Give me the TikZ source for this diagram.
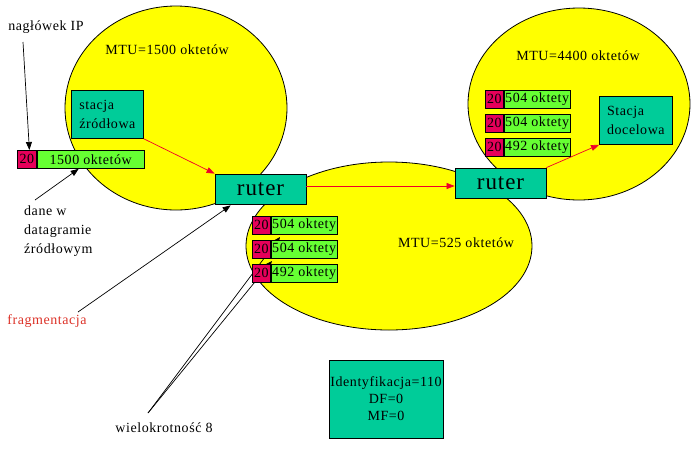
\documentclass[tikz,border=0pt]{standalone}
\usepackage{fontspec}
\setmainfont{Liberation Serif}[LetterSpace=4]
\usetikzlibrary{shapes.geometric,arrows.meta,calc}
\definecolor{netc}{RGB}{255,255,0}
\definecolor{tealc}{RGB}{0,204,153}
\definecolor{hdrc}{RGB}{230,0,90}
\definecolor{datc}{RGB}{102,255,51}
\definecolor{fragc}{RGB}{220,50,40}
\definecolor{arrc}{RGB}{240,0,40}
\begin{document}
\begin{tikzpicture}[x=1pt,y=-1pt,
  font=\fontsize{14}{16}\selectfont,
  net/.style={ellipse,draw=black,line width=0.8pt,fill=netc,inner sep=0pt},
  tbox/.style={draw=black,line width=0.8pt,fill=tealc,inner sep=0pt},
  hdr/.style={draw=black,line width=0.8pt,fill=hdrc,inner sep=0pt,minimum height=18pt,minimum width=18pt,anchor=north west},
  dat/.style={draw=black,line width=0.8pt,fill=datc,inner sep=0pt,minimum height=18pt,anchor=north west},
  blk/.style={draw=black,line width=0.7pt,-{Triangle[length=8pt,width=6pt]}},
  redarr/.style={draw=arrc,line width=0.7pt,-{Triangle[length=8pt,width=6pt]}},
  lbl/.style={inner sep=0pt}]
\useasboundingbox (0,0) rectangle (697,448);
% networks
\node[net,minimum width=222pt,minimum height=204pt] (net1) at (176,108) {};
\node[net,minimum width=222pt,minimum height=192pt] (net3) at (579,104) {};
\coordinate (w1) at (280,237);
\coordinate (w2) at (272,261);
\coordinate (wS) at (148,413);
\node[net,minimum width=286pt,minimum height=168pt] (net2) at (389,246) {};
% multiplicity lines (behind fragments)
\draw[draw=black,line width=0.7pt,-{Triangle[length=6pt,width=5pt]}] (wS) -- (w1);
\draw[draw=black,line width=0.7pt,-{Triangle[length=6pt,width=5pt]}] (wS) -- (w2);
% labels
\node[lbl] (mtu1) at (167,50) {MTU=1500 oktetów};
\node[lbl] (mtu3) at (578,56) {MTU=4400 oktetów};
\node[lbl] (mtu2) at (456,243) {MTU=525 oktetów};
\node[lbl] (nag) at (46,27) {nagłówek IP};
\node[lbl,align=left,anchor=west,font=\fontsize{14}{19}\selectfont] (dane) at (24,231) {dane w\\datagramie\\źródłowym};
\node[lbl,text=fragc] (frag) at (47,321) {fragmentacja};
\node[lbl] (wiel) at (164,428) {wielokrotność 8};
% stations and routers
\node[tbox,minimum width=72pt,minimum height=48pt,align=left,anchor=north west,font=\fontsize{14}{19}\selectfont] (src) at (71,90) {stacja\\źródłowa};
\node[tbox,minimum width=73pt,minimum height=48pt,align=left,anchor=north west,font=\fontsize{14}{19}\selectfont] (dst) at (599,96) {Stacja\\docelowa};
\node[tbox,minimum width=91pt,minimum height=30pt,font=\fontsize{23}{24}\selectfont] (r1) at (260.5,189) {ruter};
\node[tbox,minimum width=91pt,minimum height=30pt,font=\fontsize{23}{24}\selectfont] (r2) at (500.5,183) {ruter};
\node[tbox,minimum width=114pt,minimum height=78pt,align=center,font=\fontsize{14}{17}\selectfont] (ident) at (386,399) {Identyfikacja=110\\DF=0\\MF=0};
% source datagram
\node[hdr,minimum width=19pt] (h0) at (17,150) {20};
\node[dat,minimum width=107pt] (d0) at (h0.north east) {1500 oktetów};
% fragments in middle network
\node[hdr] (ha) at (252,216) {20};
\node[dat,minimum width=66pt] (da) at (ha.north east) {504 oktety};
\node[hdr] (hb) at (252,240) {20};
\node[dat,minimum width=66pt] (db) at (hb.north east) {504 oktety};
\node[hdr] (hc) at (252,264) {20};
\node[dat,minimum width=66pt] (dc) at (hc.north east) {492 oktety};
% fragments in destination network
\node[hdr] (hd) at (485,90) {20};
\node[dat,minimum width=66pt] (dd) at (hd.north east) {504 oktety};
\node[hdr] (he) at (485,114) {20};
\node[dat,minimum width=66pt] (de) at (he.north east) {504 oktety};
\node[hdr] (hf) at (485,138) {20};
\node[dat,minimum width=66pt] (df) at (hf.north east) {492 oktety};
% black annotation arrows
\coordinate (nagS) at (23,42);
\coordinate (daneS) at (35,200);
\coordinate (fragS) at (78,312);
\draw[blk] (nagS) -- ($(h0.north)+(2.5,0)$);
\draw[blk] (daneS) -- ($(d0.south)+(-12,0)$);
\draw[blk] (fragS) -- ($(r1.south west)+(16,1)$);
% red data flow arrows
\draw[redarr] (src.south east) -- (r1.north west);
\draw[redarr] ($(r1.east)+(0,-3)$) -- ($(r2.west)+(0,3)$);
\draw[redarr] (r2.north east) -- (dst.south west);
\end{tikzpicture}
\end{document}
